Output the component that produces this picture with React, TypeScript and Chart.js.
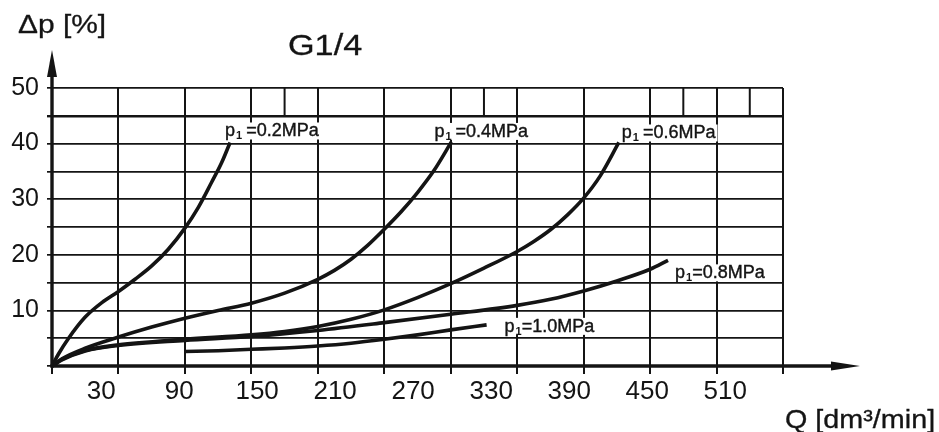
import React, { useEffect, useRef } from 'react';
import { Chart, registerables } from 'chart.js';

Chart.register(...registerables);

const FONT = "'Liberation Sans', Arial, Helvetica, sans-serif";
const INK = '#141414';

// ---- axis / tick data ----
const qTickValues = [30, 90, 150, 210, 270, 330, 390, 450, 510];
const qAxisMin = -7.8;
const qAxisMax = 554.5;
const gridDivisions = 11;
const topStripLines = [3.5, 6.5, 9.5, 10.5];
const yMin = 0;
const yMax = 50;
const yLabelled = [10, 20, 30, 40, 50];

// ---- series (x in grid divisions, y in Δp %) ----
const seriesNames = ['0.2MPa', '0.4MPa', '0.6MPa', '0.8MPa', '1.0MPa'];

const p02x = [0, 0.1, 0.25, 0.5, 0.75, 1.0, 1.25, 1.5, 1.75, 2.0, 2.2, 2.4, 2.55, 2.68];
const p02y = [0, 2.2, 5.0, 8.8, 11.4, 13.4, 15.6, 18.0, 21.0, 24.8, 28.5, 33.0, 36.5, 40.2];

const p04x = [0, 0.15, 0.5, 1.0, 1.5, 2.0, 2.5, 3.0, 3.5, 4.0, 4.25, 4.5, 4.75, 5.0, 5.25, 5.5, 5.75, 6.01];
const p04y = [0, 1.3, 3.2, 5.2, 7.0, 8.6, 10.0, 11.3, 13.1, 15.6, 17.2, 19.2, 21.7, 24.6, 27.7, 31.2, 35.2, 40.3];

const p06x = [0, 0.15, 0.5, 1.0, 2.0, 3.0, 3.5, 4.0, 4.5, 5.0, 5.5, 6.0, 6.5, 7.0, 7.25, 7.5, 7.75, 8.0, 8.25, 8.53];
const p06y = [0, 1.2, 2.8, 3.8, 4.8, 5.6, 6.2, 7.1, 8.4, 10.1, 12.3, 14.8, 17.6, 20.6, 22.4, 24.5, 27.1, 30.2, 34.2, 40.2];

const p08x = [0, 0.15, 0.5, 1.0, 2.0, 3.0, 4.0, 5.0, 6.0, 7.0, 7.5, 8.0, 8.5, 9.0, 9.27];
const p08y = [0, 1.1, 2.7, 3.7, 4.6, 5.3, 6.4, 7.8, 9.3, 10.9, 12.0, 13.5, 15.3, 17.4, 19.0];

const p10x = [2.0, 2.5, 3.0, 3.5, 4.0, 4.5, 5.0, 5.5, 6.0, 6.54];
const p10y = [2.6, 2.75, 3.0, 3.25, 3.6, 4.1, 4.8, 5.6, 6.5, 7.4];

const seriesX = [p02x, p04x, p06x, p08x, p10x];
const seriesY = [p02y, p04y, p06y, p08y, p10y];

// label placement relative to curve end (layout only)
const labelOffsets: [number, number][] = [
  [-5, -6],
  [-17, -5],
  [3, -4],
  [7, 18],
  [18, 7],
];
const labelGaps = [4, 4, 4, 0, 0];

function stretchedText(ctx: any, text: string, x: number, y: number, font: string, sx: number) {
  ctx.save();
  ctx.font = font;
  ctx.translate(x, y);
  ctx.scale(sx, 1);
  ctx.lineWidth = 0.3;
  ctx.fillText(text, 0, 0);
  ctx.strokeText(text, 0, 0);
  ctx.restore();
}

const decorPlugin = {
  id: 'decor',
  afterDatasetsDraw(chart: any) {
    const { ctx } = chart;
    ctx.save();
    seriesNames.forEach((name, i) => {
      const meta = chart.getDatasetMeta(i);
      const pts = meta.data;
      if (!pts || !pts.length) return;
      const end = pts[pts.length - 1];
      const [dx, dy] = labelOffsets[i];
      const left = end.x + dx;
      const base = end.y + dy;
      const main = '=' + name;
      ctx.font = `18px ${FONT}`;
      const wp = ctx.measureText('p').width;
      const wm = ctx.measureText(main).width;
      ctx.font = `bold 11px ${FONT}`;
      const ws = ctx.measureText('1').width;
      const total = wp + 1 + ws + labelGaps[i] + wm;
      ctx.fillStyle = '#ffffff';
      ctx.fillRect(left - 2, base - 14, total + 4, 17);
      ctx.fillStyle = INK;
      ctx.strokeStyle = INK;
      ctx.lineWidth = 0.4;
      ctx.textBaseline = 'alphabetic';
      ctx.textAlign = 'left';
      ctx.font = `18px ${FONT}`;
      ctx.fillText('p', left, base);
      ctx.strokeText('p', left, base);
      ctx.font = `bold 11px ${FONT}`;
      ctx.fillText('1', left + wp + 1, base + 3);
      ctx.font = `18px ${FONT}`;
      ctx.fillText(main, left + wp + 1 + ws + labelGaps[i], base);
      ctx.strokeText(main, left + wp + 1 + ws + labelGaps[i], base);
    });
    ctx.restore();
  },
  afterDraw(chart: any) {
    const { ctx, chartArea: a, scales } = chart;
    const xs = scales.x;
    const ys = scales.y;
    ctx.save();
    ctx.strokeStyle = INK;
    ctx.fillStyle = INK;
    ctx.lineCap = 'butt';

    // extra lines in the top strip
    ctx.lineWidth = 2;
    topStripLines.forEach((v) => {
      const px = xs.getPixelForValue(v);
      ctx.beginPath();
      ctx.moveTo(px, ys.getPixelForValue(45));
      ctx.lineTo(px, ys.getPixelForValue(50));
      ctx.stroke();
    });

    // y axis with arrow
    ctx.lineWidth = 3.4;
    ctx.beginPath();
    ctx.moveTo(a.left, a.bottom + 1.5);
    ctx.lineTo(a.left, 72);
    ctx.stroke();
    ctx.beginPath();
    ctx.moveTo(a.left, 50);
    ctx.lineTo(a.left - 5, 77);
    ctx.lineTo(a.left + 5, 77);
    ctx.closePath();
    ctx.fill();

    // x axis with arrow
    ctx.beginPath();
    ctx.moveTo(a.left - 1.5, a.bottom);
    ctx.lineTo(836, a.bottom);
    ctx.stroke();
    ctx.beginPath();
    ctx.moveTo(860, a.bottom);
    ctx.lineTo(831, a.bottom - 4.5);
    ctx.lineTo(831, a.bottom + 4.5);
    ctx.closePath();
    ctx.fill();

    // texts
    ctx.textAlign = 'left';
    ctx.textBaseline = 'alphabetic';
    stretchedText(ctx, 'Δp [%]', 18, 33, `26px ${FONT}`, 1.15);
    stretchedText(ctx, 'G1/4', 288, 55, `29px ${FONT}`, 1.18);
    stretchedText(ctx, 'Q [dm³/min]', 785, 428, `25px ${FONT}`, 1.15);
    ctx.restore();
  },
};

export default function App() {
  const canvasRef = useRef<HTMLCanvasElement | null>(null);

  useEffect(() => {
    if (!canvasRef.current) return;
    const datasets = seriesNames.map((name, i) => ({
      label: name,
      data: seriesX[i].map((x, k) => ({ x, y: seriesY[i][k] })),
      borderColor: INK,
      borderWidth: 3.6,
      pointRadius: 0,
      fill: false,
      cubicInterpolationMode: 'monotone' as const,
      xAxisID: 'x',
      yAxisID: 'y',
      clip: false as any,
    }));

    const chart = new Chart(canvasRef.current, {
      type: 'line',
      data: { datasets },
      plugins: [decorPlugin],
      options: {
        animation: false,
        responsive: true,
        maintainAspectRatio: false,
        events: [],
        layout: { padding: { left: 0, top: 88, right: 156, bottom: 0 } },
        plugins: {
          legend: { display: false },
          tooltip: { enabled: false },
          title: { display: false },
        },
        scales: {
          x: {
            type: 'linear',
            position: 'bottom',
            weight: 0,
            min: 0,
            max: gridDivisions,
            ticks: { display: false, stepSize: 1 },
            grid: {
              color: INK,
              lineWidth: 2,
              drawTicks: true,
              tickLength: 8,
              tickWidth: 2,
              tickColor: INK,
            },
            border: { display: false },
            afterFit: (s: any) => {
              s.height = 8;
            },
          },
          q: {
            type: 'linear',
            position: 'bottom',
            weight: 1,
            min: qAxisMin,
            max: qAxisMax,
            afterBuildTicks: (s: any) => {
              s.ticks = qTickValues.map((v) => ({ value: v }));
            },
            ticks: {
              color: INK,
              font: { size: 26, family: FONT },
              padding: 2,
              maxRotation: 0,
              autoSkip: false,
              callback: (v: any) => String(v),
            },
            grid: { display: false, drawTicks: false },
            border: { display: false },
            afterFit: (s: any) => {
              s.height = 58;
            },
          },
          y: {
            type: 'linear',
            position: 'left',
            min: yMin,
            max: yMax,
            ticks: {
              stepSize: 5,
              color: INK,
              font: { size: 25, family: FONT },
              padding: 8,
              autoSkip: false,
              callback: (v: any) => (yLabelled.includes(Number(v)) ? String(v) : ''),
            },
            grid: {
              color: INK,
              lineWidth: (c: any) => (c.tick && c.tick.value === 45 ? 2.4 : 1.7),
              drawTicks: true,
              tickLength: 5,
              tickColor: INK,
            },
            border: { display: false },
            afterFit: (s: any) => {
              s.width = 52;
            },
          },
        },
      },
    });
    return () => chart.destroy();
  }, []);

  return (
    <div style={{ position: 'absolute', left: 0, top: 0, width: 939, height: 432, background: '#fff' }}>
      <canvas ref={canvasRef} />
    </div>
  );
}
